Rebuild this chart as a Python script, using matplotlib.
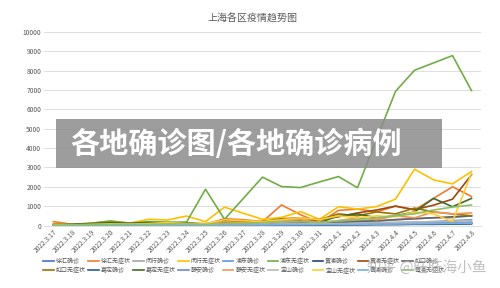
import matplotlib
matplotlib.use("Agg")
import matplotlib.pyplot as plt
from matplotlib.patches import Rectangle

plt.rcParams['font.family'] = ['Noto Sans CJK SC', 'DejaVu Sans']

# 日期
dates = ['2022.3.17', '2022.3.18', '2022.3.19', '2022.3.20', '2022.3.21', '2022.3.22',
         '2022.3.23', '2022.3.24', '2022.3.25', '2022.3.26', '2022.3.27', '2022.3.28',
         '2022.3.29', '2022.3.30', '2022.3.31', '2022.4.1', '2022.4.2', '2022.4.3',
         '2022.4.4', '2022.4.5', '2022.4.6', '2022.4.7', '2022.4.8']

# 各区数据
xuhui_qz = [5, 5, 5, 10, 10, 10, 10, 10, 15, 20, 20, 30, 30, 40, 40, 50, 60, 60, 70, 80, 90, 110, 150]
xuhui_wzz = [200, 60, 50, 80, 100, 150, 120, 130, 60, 350, 300, 200, 1060, 560, 140, 780, 850, 700, 1000, 800, 1400, 2000, 1500]
minhang_qz = [20, 30, 40, 50, 60, 60, 80, 100, 80, 100, 100, 150, 200, 150, 100, 200, 250, 200, 300, 350, 400, 400, 500]
minhang_wzz = [100, 50, 120, 230, 120, 320, 285, 490, 200, 950, 630, 320, 420, 720, 320, 970, 850, 975, 1360, 2910, 2360, 2150, 2790]
pudong_qz = [30, 30, 30, 40, 40, 40, 50, 50, 60, 60, 70, 80, 80, 90, 100, 100, 120, 130, 150, 180, 200, 250, 300]
pudong_wzz = [50, 60, 120, 230, 120, 200, 180, 170, 1875, 320, 1410, 2500, 2010, 1960, 2250, 2530, 1950, 4450, 6930, 8020, 8400, 8780, 6970]
huangpu_qz = [5, 5, 5, 5, 10, 10, 10, 10, 10, 20, 20, 20, 30, 30, 40, 40, 50, 60, 60, 70, 80, 100, 120]
huangpu_wzz = [50, 40, 80, 120, 100, 100, 90, 80, 60, 250, 150, 200, 300, 250, 300, 450, 650, 800, 1000, 820, 1050, 1360, 2620]
hongkou_qz = [10, 10, 20, 30, 30, 40, 40, 50, 40, 60, 80, 80, 100, 100, 120, 150, 200, 250, 300, 350, 400, 450, 500]
hongkou_wzz = [20, 40, 60, 80, 100, 100, 100, 120, 80, 150, 200, 200, 350, 400, 300, 600, 500, 700, 600, 900, 700, 600, 500]
jiading_qz = [5, 5, 5, 10, 10, 10, 10, 15, 15, 20, 20, 20, 20, 30, 30, 40, 40, 50, 50, 60, 60, 70, 80]
jiading_wzz = [30, 50, 100, 150, 100, 150, 120, 150, 60, 300, 100, 150, 300, 200, 150, 500, 600, 400, 500, 700, 1400, 970, 1400]
jingan_qz = [5, 10, 10, 15, 20, 20, 20, 25, 30, 30, 40, 50, 50, 60, 60, 80, 80, 90, 100, 120, 130, 150, 170]
jingan_wzz = [50, 30, 50, 60, 80, 80, 100, 100, 100, 200, 150, 100, 250, 300, 150, 250, 400, 300, 500, 400, 700, 600, 650]
baoshan_qz = [10, 10, 15, 20, 20, 30, 30, 40, 40, 50, 60, 60, 80, 80, 90, 100, 120, 140, 160, 180, 200, 220, 260]
baoshan_wzz = [30, 30, 50, 80, 60, 100, 150, 100, 100, 300, 250, 200, 300, 400, 300, 500, 400, 500, 450, 700, 600, 200, 2700]
qingpu_qz = [5, 5, 10, 10, 10, 15, 15, 20, 20, 25, 30, 30, 40, 40, 50, 50, 60, 70, 80, 90, 100, 110, 120]
qingpu_wzz = [20, 30, 40, 50, 60, 60, 80, 80, 60, 100, 100, 150, 200, 200, 150, 250, 300, 400, 500, 600, 800, 950, 1060]

names = ['徐汇确诊', '徐汇无症状', '闵行确诊', '闵行无症状', '浦东确诊', '浦东无症状',
         '黄浦确诊', '黄浦无症状', '虹口确诊', '虹口无症状', '嘉定确诊', '嘉定无症状',
         '静安确诊', '静安无症状', '宝山确诊', '宝山无症状', '青浦确诊', '青浦无症状']
series = [xuhui_qz, xuhui_wzz, minhang_qz, minhang_wzz, pudong_qz, pudong_wzz,
          huangpu_qz, huangpu_wzz, hongkou_qz, hongkou_wzz, jiading_qz, jiading_wzz,
          jingan_qz, jingan_wzz, baoshan_qz, baoshan_wzz, qingpu_qz, qingpu_wzz]
colors = ['#4472C4', '#ED7D31', '#A5A5A5', '#FFC000', '#5B9BD5', '#70AD47',
          '#264478', '#9E480E', '#636363', '#997300', '#255E91', '#43682B',
          '#698ED0', '#F1975A', '#B7B7B7', '#FFCD33', '#7CAFDD', '#8CC168']

fig = plt.figure(figsize=(5, 2.88), dpi=100)
ax = fig.add_axes([0.088, 0.217, 0.874, 0.672])

x = list(range(len(dates)))
lines = []
for name, vals, c in zip(names, series, colors):
    ln, = ax.plot(x, vals, color=c, lw=1.2, label=name)
    lines.append(ln)

ax.set_xlim(-0.5, len(dates) - 0.5)
ax.set_ylim(0, 10000)
ax.set_yticks(range(0, 10001, 1000))
ax.set_xticks(x)
ax.set_xticklabels(dates, rotation=45, ha='right', rotation_mode='anchor')
ax.tick_params(axis='both', length=0, labelsize=4.8, labelcolor='#595959', pad=2)
ax.grid(axis='y', color='#D9D9D9', lw=0.6)
ax.set_axisbelow(True)
for s in ['top', 'right', 'left']:
    ax.spines[s].set_visible(False)
ax.spines['bottom'].set_color('#D9D9D9')
ax.spines['bottom'].set_linewidth(0.6)

fig.text(0.504, 0.934, '上海各区疫情趋势图', ha='center', va='center',
         fontsize=7.2, color='#595959')

# 图例按行排列 (9列2行)
order = []
for i in range(9):
    order += [i, i + 9]
fig.legend([lines[i] for i in order], [names[i] for i in order],
           loc='center', bbox_to_anchor=(0.488, 0.078), ncol=9, frameon=False,
           fontsize=4.3, handlelength=1.8, handletextpad=0.3, columnspacing=0.4,
           labelspacing=0.5, labelcolor='#595959')

# 灰色标题遮罩
fig.patches.append(Rectangle((56 / 500, 1 - 168 / 288), 386 / 500, 49 / 288,
                             transform=fig.transFigure, facecolor='#8c8c8c',
                             alpha=0.85, edgecolor='none', zorder=5))
fig.text(70 / 500, 1 - 144 / 288, '各地确诊图/各地确诊病例', ha='left', va='center',
         fontsize=21, fontweight='heavy', color='white', zorder=6)

# 水印
fig.text(427 / 500, 1 - 267 / 288, '知乎 @旺旺海小鱼', ha='center', va='center',
         fontsize=10.5, color='#b0b0b0', alpha=0.8, zorder=6)

fig.savefig('out.png', dpi=100)
